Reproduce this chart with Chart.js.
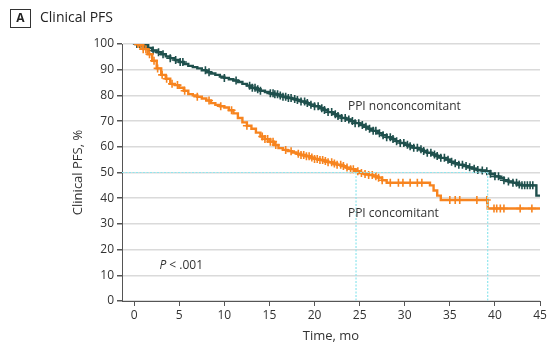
<!DOCTYPE html>
<html>
<head>
<meta charset="utf-8">
<script src="https://cdn.jsdelivr.net/npm/chart.js@4"></script>
<style>
  html, body { margin: 0; padding: 0; background: #fff; }
  #wrap { width: 549px; height: 346px; position: relative; }
</style>
</head>
<body>
<div id="wrap"><canvas id="grafico"></canvas></div>
<script>
// Kaplan-Meier estimates (months, % event free)
const nonTimes = [0, 0.8, 1.5, 2, 2.5, 3, 3.5, 4, 4.5, 5, 5.5, 6, 6.5, 7, 7.5, 8, 8.5, 9, 9.5, 10,
  10.5, 11, 11.5, 12, 12.5, 13, 13.5, 14, 14.5, 15, 15.5, 16, 16.5, 17, 17.5, 18, 18.5, 19, 19.5, 20,
  20.5, 21, 21.5, 22, 22.5, 23, 23.5, 24, 24.5, 25, 25.5, 26, 26.5, 27, 27.5, 28, 28.5, 29, 29.5, 30,
  30.5, 31, 31.5, 32, 32.5, 33, 33.5, 34, 34.5, 35, 35.5, 36, 36.5, 37, 37.5, 38, 38.5, 39, 39.5, 40,
  40.5, 41, 41.5, 42, 42.5, 43, 44.6, 45];
const nonValues = [100, 99.5, 98.5, 97.5, 96.8, 96, 95.2, 94.5, 93.8, 93, 92.2, 91.5, 91, 90.5, 89.8, 89, 88.5, 88, 87.3, 86.8,
  86.3, 85.8, 85.2, 84.5, 83.8, 83, 82.4, 81.8, 81.3, 80.8, 80.4, 80, 79.5, 79, 78.6, 78.2, 77.6, 77, 76.4, 75.8,
  75, 74.3, 73.5, 72.7, 72, 71.2, 70.6, 70, 69.2, 68.5, 67.8, 67, 66.2, 65.3, 64.5, 63.7, 63, 62.2, 61.5, 60.8,
  60.2, 59.6, 59, 58.4, 57.7, 57, 56.4, 55.7, 55, 54.2, 53.6, 53, 52.5, 52, 51.5, 51, 50.8, 50.5, 49.5, 48.5,
  47.8, 47, 46.5, 46, 45.3, 45, 41, 41];

const conTimes = [0, 0.5, 1, 1.5, 2, 2.5, 3, 3.5, 4, 4.5, 5, 5.5, 6, 6.5, 7, 7.5, 8, 8.5, 9, 9.5, 10,
  10.5, 11, 11.5, 12, 12.5, 13, 13.5, 14, 14.5, 15, 15.5, 16, 16.5, 17, 17.5, 18, 18.5, 19, 19.5, 20,
  20.5, 21, 21.5, 22, 22.5, 23, 23.5, 24, 24.5, 25, 25.5, 26, 26.5, 27, 27.5, 28, 32.8, 33.2, 33.6, 34, 39.2, 45];
const conValues = [100, 99.5, 98, 96, 93.5, 90.5, 88, 86.5, 84.5, 84, 83, 81.8, 80.5, 80, 79.5, 78.8, 78, 77, 76.3, 75.8, 75.3,
  74.2, 73, 71.2, 69.5, 68.2, 67, 65.5, 64, 63, 62, 60.7, 59.5, 58.8, 58.3, 57.8, 57.3, 56.8, 56.3, 55.8, 55.3,
  54.9, 54.5, 54, 53.5, 53, 52.5, 51.9, 51.3, 50.5, 49.8, 49.4, 49, 48.5, 48, 47, 46, 45, 43, 41, 39.3, 36, 36];

// censoring times
const nonCensor = [0.3, 0.6, 0.9, 1.2, 1.6, 2.1, 2.7, 3.2, 4, 4.6, 5.1, 5.4, 7.9, 8.3, 10, 11.3, 12.8, 13.1, 13.4, 13.7, 14,
  15.1, 15.4, 15.6, 15.9, 16.2, 16.5, 16.8, 17.1, 17.4, 17.8, 18.1, 18.5, 18.9, 19.2, 19.6, 20, 20.4, 20.8, 21.1, 21.5,
  21.9, 22.3, 22.6, 23, 23.4, 23.8, 24.2, 24.5, 24.9, 25.3, 25.7, 26.1, 26.5, 26.8, 27.2, 27.6, 28, 28.4, 28.7, 29.1,
  29.5, 29.9, 30.3, 30.6, 31, 31.4, 31.8, 32.1, 32.5, 32.9, 33.3, 33.6, 34, 34.4, 34.8, 35.2, 35.6, 36, 36.4, 36.8,
  37.2, 37.7, 38.1, 38.6, 39.1, 39.5, 40, 40.4, 41, 41.5, 42, 42.4, 42.7, 43, 43.3, 43.6, 43.9, 44.2];
const conCensor = [0.4, 0.7, 1.0, 1.3, 1.7, 2.2, 2.6, 3.1, 3.6, 4.2, 4.8, 5.6, 7, 8.3, 9.6, 10.8, 12.5, 14.2, 14.5, 14.8,
  15.1, 15.4, 15.7, 16.8, 17.4, 18.2, 18.5, 18.8, 19.1, 19.4, 19.7, 20, 20.3, 20.6, 20.9, 21.2, 21.5, 21.9, 22.2, 22.5,
  22.9, 23.2, 23.6, 24, 24.3, 24.8, 25.2, 25.6, 26, 26.4, 26.8, 27.1, 27.5, 28.4, 29.3, 29.8, 30.6, 31.4, 31.9,
  35, 35.6, 36.1, 38, 39.1, 39.9, 40.2, 40.6, 41, 42.8, 44.1];

const medianTimes = [24.6, 39.2];
const xTicks = [0, 5, 10, 15, 20, 25, 30, 35, 40, 45];
const yTicks = [0, 10, 20, 30, 40, 50, 60, 70, 80, 90, 100];

const TEAL = '#1f504d';
const ORANGE = '#f7841f';
const CYAN = '#8fe6ee';
const FONT = '"Open Sans", "Liberation Sans", sans-serif';

const toPoints = (times, vals) => times.map((t, i) => ({ x: t, y: vals[i] }));

// value of the step curve at time t
function stepAt(times, vals, t) {
    let v = vals[0];
    for (let i = 0; i < times.length; i++) {
        if (times[i] <= t) v = vals[i];
    }
    return v;
}

const censorPoints = (cens, times, vals) => cens.map(t => ({ x: t, y: stepAt(times, vals, t) }));

const textPlugin = {
    id: 'textos',
    afterDraw(chart) {
        const ctx = chart.ctx;
        const xs = chart.scales.x;
        const ys = chart.scales.y;
        ctx.save();
        // panel label
        ctx.strokeStyle = '#333';
        ctx.lineWidth = 1;
        ctx.strokeRect(10.5, 9.5, 20, 18);
        ctx.fillStyle = '#222';
        ctx.font = 'bold 12px ' + FONT;
        ctx.textAlign = 'center';
        ctx.textBaseline = 'middle';
        ctx.fillText('A', 20.5, 19);
        ctx.textAlign = 'left';
        ctx.font = '14px ' + FONT;
        ctx.fillText('Clinical PFS', 40, 18);

        ctx.font = '12px ' + FONT;
        ctx.fillStyle = '#333';
        ctx.fillText('PPI nonconcomitant', xs.getPixelForValue(23.7), ys.getPixelForValue(75.5));
        ctx.fillText('PPI concomitant', xs.getPixelForValue(23.7), ys.getPixelForValue(34.2));
        const px = xs.getPixelForValue(2.8);
        const py = ys.getPixelForValue(13.6);
        ctx.font = 'italic 12px ' + FONT;
        ctx.fillText('P', px, py);
        const w = ctx.measureText('P ').width;
        ctx.font = '12px ' + FONT;
        ctx.fillText('< .001', px + w, py);
        ctx.restore();
    }
};

const lineSet = (label, data, color) => ({
    label, data, borderColor: color, backgroundColor: color,
    borderWidth: 2.4, stepped: 'before', pointRadius: 0, fill: false
});
const censorSet = (label, data, color) => ({
    label, data, showLine: false, borderColor: color, backgroundColor: color,
    pointStyle: 'cross', pointRadius: 4, pointBorderWidth: 1.6
});
const refSet = (data) => ({
    data, borderColor: CYAN, borderWidth: 1.2, borderDash: [2, 1.5],
    pointRadius: 0, fill: false
});

const config = {
    type: 'line',
    data: {
        datasets: [
            refSet([{ x: -1.35, y: 50 }, { x: medianTimes[1], y: 50 }]),
            refSet([{ x: medianTimes[0], y: 50 }, { x: medianTimes[0], y: 0 }]),
            refSet([{ x: medianTimes[1], y: 50 }, { x: medianTimes[1], y: 0 }]),
            lineSet('PPI concomitant', toPoints(conTimes, conValues), ORANGE),
            censorSet('PPI concomitant censored', censorPoints(conCensor, conTimes, conValues), ORANGE),
            lineSet('PPI nonconcomitant', toPoints(nonTimes, nonValues), TEAL),
            censorSet('PPI nonconcomitant censored', censorPoints(nonCensor, nonTimes, nonValues), TEAL)
        ]
    },
    options: {
        responsive: true,
        maintainAspectRatio: false,
        animation: false,
        layout: { padding: { top: 44, right: 9, left: 64, bottom: 0 } },
        plugins: { legend: { display: false }, tooltip: { enabled: false } },
        scales: {
            x: {
                type: 'linear', min: -1.35, max: 45,
                afterBuildTicks: s => { s.ticks = xTicks.map(v => ({ value: v })); },
                afterFit: s => { s.height = 45; },
                grid: { drawOnChartArea: false, tickLength: 5, tickColor: '#555' },
                border: { color: '#555', width: 1 },
                ticks: { color: '#333', font: { family: FONT, size: 12 }, padding: 2, maxRotation: 0 },
                title: { display: true, text: 'Time, mo', color: '#333', font: { family: FONT, size: 13 }, padding: { top: 0, bottom: 2 } }
            },
            y: {
                type: 'linear', min: 0, max: 100,
                afterBuildTicks: s => { s.ticks = yTicks.map(v => ({ value: v })); },
                afterFit: s => { s.width = 58; },
                grid: { color: '#dadada', lineWidth: 1.5, tickLength: 5, tickColor: '#555' },
                border: { color: '#555', width: 1 },
                ticks: { color: '#333', font: { family: FONT, size: 12 }, padding: 3 },
                title: { display: true, text: 'Clinical PFS, %', color: '#333', font: { family: FONT, size: 13 }, padding: { top: 6, bottom: 0 } }
            }
        }
    },
    plugins: [textPlugin]
};

const canvas = document.getElementById('grafico');
const myChart = new Chart(canvas, config);
</script>
</body>
</html>
